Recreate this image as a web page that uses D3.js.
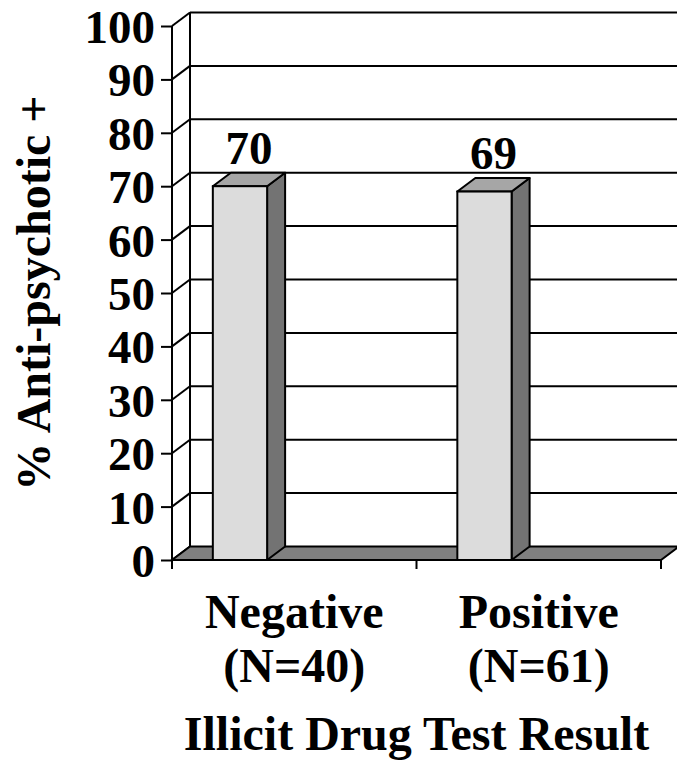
<!DOCTYPE html>
<html>
<head>
<meta charset="utf-8">
<script src="https://cdn.jsdelivr.net/npm/d3@7/dist/d3.min.js"></script>
<style>
  html, body { margin: 0; padding: 0; background: #fff; }
  svg { display: block; }
  text { font-family: "Liberation Serif", "Times New Roman", serif; font-weight: bold; fill: #000; }
</style>
</head>
<body>
<svg id="chart" width="677" height="768"></svg>
<script>
// Data
const categories = ["Negative", "Positive"];
const sampleSizes = ["(N=40)", "(N=61)"];
const values = [70, 69];
const yTicks = [0, 10, 20, 30, 40, 50, 60, 70, 80, 90, 100];
const yTitle = "% Anti-psychotic +";
const xTitle = "Illicit Drug Test Result";

const W = 677, H = 768;
const plot = { left: 172, right: 661, top: 26, bottom: 560 };
const depth = { dx: 18, dy: 13.5 };   // oblique offset of the back wall

const svg = d3.select("#chart");

const y = d3.scaleLinear().domain([0, 100]).range([plot.bottom, plot.top]);
const x = d3.scaleBand().domain(categories).range([plot.left, plot.right]).paddingInner(0).paddingOuter(0);
const barOffset = 0.167, barFrac = 0.222;

svg.append("defs").append("clipPath").attr("id", "frame")
  .append("rect").attr("width", W).attr("height", H);

const g = svg.append("g").attr("clip-path", "url(#frame)");
const stroke = "#000", sw = 2;

// Back wall gridlines
g.append("g").selectAll("line").data(yTicks.filter(d => d > 0)).join("line")
  .attr("x1", plot.left + depth.dx).attr("x2", plot.right + depth.dx)
  .attr("y1", d => y(d) - depth.dy).attr("y2", d => y(d) - depth.dy)
  .attr("stroke", stroke).attr("stroke-width", sw);

// Left wall: diagonals at each tick
g.append("g").selectAll("line").data(yTicks).join("line")
  .attr("x1", plot.left).attr("x2", plot.left + depth.dx)
  .attr("y1", d => y(d)).attr("y2", d => y(d) - depth.dy)
  .attr("stroke", stroke).attr("stroke-width", sw);

// Back wall vertical edge
g.append("line")
  .attr("x1", plot.left + depth.dx).attr("x2", plot.left + depth.dx)
  .attr("y1", y(100) - depth.dy).attr("y2", y(0) - depth.dy)
  .attr("stroke", stroke).attr("stroke-width", sw);

// Floor
const floorPts = [
  [plot.left, y(0)], [plot.right, y(0)],
  [plot.right + depth.dx, y(0) - depth.dy], [plot.left + depth.dx, y(0) - depth.dy]
];
g.append("polygon")
  .attr("points", floorPts.map(p => p.join(",")).join(" "))
  .attr("fill", "#808080").attr("stroke", stroke).attr("stroke-width", sw);

// Bars (side, top and front faces)
const bars = g.append("g").selectAll("g").data(values).join("g");
const bx0 = (d, i) => x(categories[i]) + x.bandwidth() * barOffset;
const bx1 = (d, i) => bx0(d, i) + x.bandwidth() * barFrac;

bars.append("polygon")
  .attr("points", (d, i) => {
    const a = bx1(d, i), t = y(d), b = y(0);
    return [[a, t], [a + depth.dx, t - depth.dy], [a + depth.dx, b - depth.dy], [a, b]].map(p => p.join(",")).join(" ");
  })
  .attr("fill", "#737373").attr("stroke", stroke).attr("stroke-width", sw).attr("stroke-linejoin", "round");

bars.append("polygon")
  .attr("points", (d, i) => {
    const a = bx0(d, i), c = bx1(d, i), t = y(d);
    return [[a, t], [a + depth.dx, t - depth.dy], [c + depth.dx, t - depth.dy], [c, t]].map(p => p.join(",")).join(" ");
  })
  .attr("fill", "#a6a6a6").attr("stroke", stroke).attr("stroke-width", sw).attr("stroke-linejoin", "round");

bars.append("rect")
  .attr("x", (d, i) => bx0(d, i))
  .attr("y", d => y(d))
  .attr("width", x.bandwidth() * barFrac)
  .attr("height", d => y(0) - y(d))
  .attr("fill", "#dcdcdc").attr("stroke", stroke).attr("stroke-width", sw);

// Value labels
bars.append("text")
  .attr("x", (d, i) => (bx0(d, i) + bx1(d, i)) / 2 + depth.dx / 2)
  .attr("y", d => y(d) - depth.dy - 9)
  .attr("text-anchor", "middle")
  .attr("font-size", 47)
  .text(d => d);

// Front y axis
g.append("line")
  .attr("x1", plot.left).attr("x2", plot.left)
  .attr("y1", y(100)).attr("y2", y(0))
  .attr("stroke", stroke).attr("stroke-width", sw);

const yAxis = d3.axisLeft(y).tickValues(yTicks).tickSize(11).tickPadding(6).tickFormat(d3.format("d"));
const ya = g.append("g").attr("transform", `translate(${plot.left},0)`).call(yAxis);
ya.select(".domain").remove();
ya.selectAll(".tick line").attr("stroke", stroke).attr("stroke-width", sw);
ya.selectAll(".tick text").attr("font-size", 47).attr("font-family", null).attr("dy", "0.35em");

// X axis ticks at category boundaries
const xBounds = [plot.left, ...categories.slice(1).map(c => x(c)), plot.right];
g.append("g").selectAll("line").data(xBounds).join("line")
  .attr("x1", d => d).attr("x2", d => d)
  .attr("y1", y(0)).attr("y2", y(0) + 9)
  .attr("stroke", stroke).attr("stroke-width", sw);

// Category labels
const cl = svg.append("g").selectAll("text").data(categories).join("text")
  .attr("x", d => x(d) + x.bandwidth() / 2)
  .attr("y", 628)
  .attr("text-anchor", "middle")
  .attr("font-size", 48);
cl.append("tspan").text(d => d);
cl.append("tspan").attr("x", d => x(d) + x.bandwidth() / 2).attr("dy", 54).text((d, i) => sampleSizes[i]);

// Axis titles
svg.append("text")
  .attr("x", (plot.left + plot.right) / 2)
  .attr("y", 750)
  .attr("text-anchor", "middle")
  .attr("font-size", 48)
  .text(xTitle);

svg.append("text")
  .attr("transform", `translate(50,${(plot.top + plot.bottom) / 2}) rotate(-90)`)
  .attr("text-anchor", "middle")
  .attr("font-size", 48)
  .text(yTitle);
</script>
</body>
</html>
